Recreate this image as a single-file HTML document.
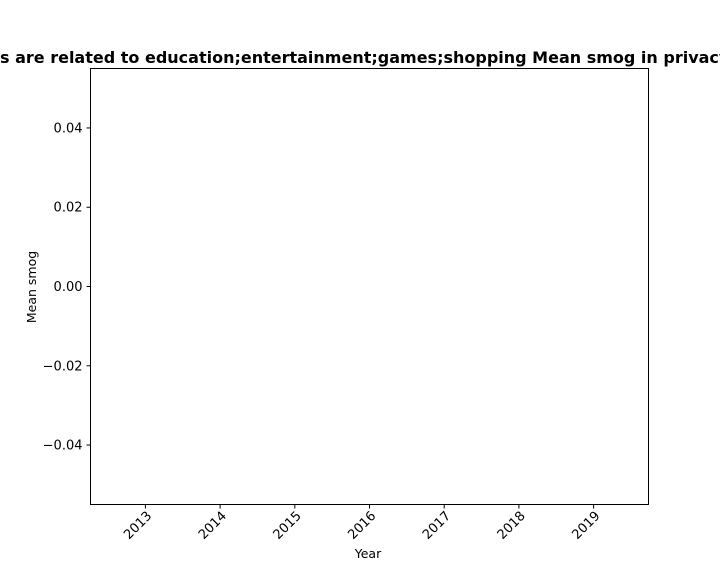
<!DOCTYPE html>
<html><head><meta charset="utf-8"><style>
html,body{margin:0;padding:0;background:#fff;width:720px;height:576px;overflow:hidden}
svg text{font-family:"DejaVu Sans","Liberation Sans",sans-serif}
</style></head><body>
<svg id="chart" width="720" height="576">
<text x="0" y="63" font-size="16" font-weight="bold" fill="#000">s are related to education;entertainment;games;shopping Mean smog in privacy policies</text>
<rect x="90.5" y="68.5" width="558" height="436" fill="none" stroke="#000" stroke-width="1"/>
<g id="yticks"></g><g id="xticks"></g><g id="marks"></g>
<text x="368" y="558" font-size="12.5" text-anchor="middle">Year</text>
<text transform="translate(36,287) rotate(-90)" font-size="12.5" text-anchor="middle">Mean smog</text>
</svg>
<script>
const years = [2013, 2014, 2015, 2016, 2017, 2018, 2019];
const yTickValues = [0.04, 0.02, 0.00, -0.02, -0.04];
const yTickLabels = ["0.04", "0.02", "0.00", "\u22120.02", "\u22120.04"];
const seriesX = [];
const seriesY = [];
const L=90.5,R=648.5,T=68.5,B=504.5;
const xmin=2012.265,xmax=2019.735,ymin=-0.055,ymax=0.055;
const xs=v=>L+(v-xmin)/(xmax-xmin)*(R-L);
const ys=v=>B-(v-ymin)/(ymax-ymin)*(B-T);
const NS="http://www.w3.org/2000/svg";
const yg=document.getElementById('yticks'),xg=document.getElementById('xticks'),mg=document.getElementById('marks');
yTickValues.forEach((v,i)=>{const y=ys(v);
const l=document.createElementNS(NS,'line');l.setAttribute('x1',L-4);l.setAttribute('x2',L);l.setAttribute('y1',y);l.setAttribute('y2',y);l.setAttribute('stroke','#000');


yg.appendChild(l);
const t=document.createElementNS(NS,'text');t.setAttribute('x',L-8);t.setAttribute('y',y+4.5);t.setAttribute('font-size','13');t.setAttribute('text-anchor','end');t.textContent=yTickLabels[i];


yg.appendChild(t);});
years.forEach(v=>{const x=xs(v);
const l=document.createElementNS(NS,'line');l.setAttribute('x1',x);l.setAttribute('x2',x);l.setAttribute('y1',B);l.setAttribute('y2',B+4);l.setAttribute('stroke','#000');


xg.appendChild(l);
const t=document.createElementNS(NS,'text');t.setAttribute('font-size','13');t.setAttribute('text-anchor','end');
t.setAttribute('transform','translate('+(x+7)+','+(B+12)+') rotate(-45)');t.textContent=v;


xg.appendChild(t);});
if(seriesX.length){let d='';seriesX.forEach((v,i)=>{d+=(i?'L':'M')+xs(v)+','+ys(seriesY[i]);});
const p=document.createElementNS(NS,'path');p.setAttribute('d',d);p.setAttribute('fill','none');p.setAttribute('stroke','#1f77b4');p.setAttribute('stroke-width','1.5');


mg.appendChild(p);}
</script>
</body></html>
